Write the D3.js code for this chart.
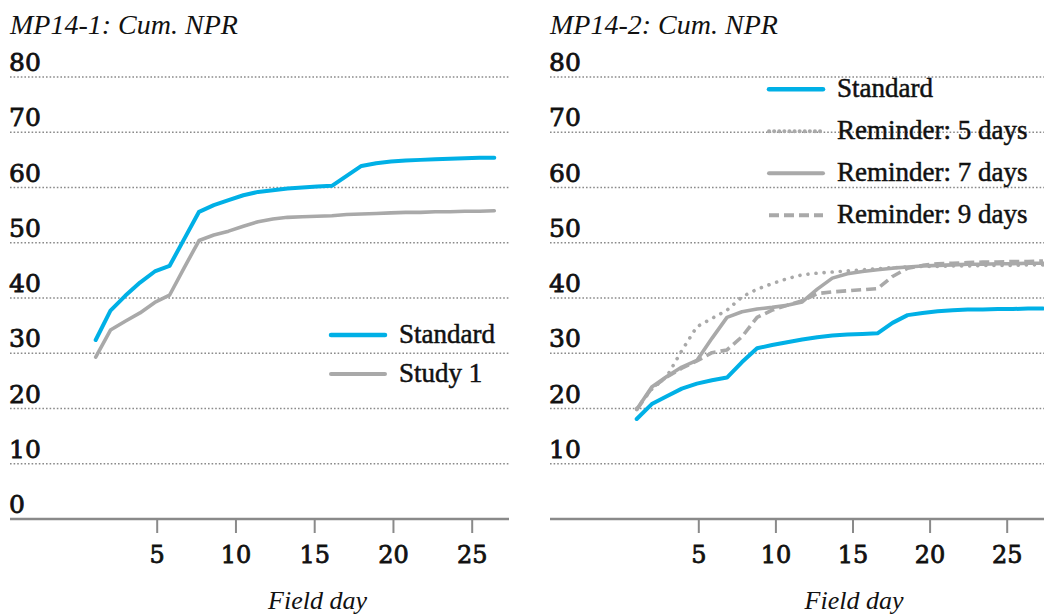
<!DOCTYPE html>
<html>
<head>
<meta charset="utf-8">
<script src="https://cdn.jsdelivr.net/npm/d3@7/dist/d3.min.js"></script>
<style>
  body { margin: 0; background: #fff; }
  svg text { fill: #111; }
  svg text.heavy { stroke: #111; stroke-width: 0.8px; }
  svg text.medium { stroke: #111; stroke-width: 0.5px; }
</style>
</head>
<body>
<div id="chart"></div>
<script>
// observation number along each field period (28 readings per study)
const samples = [1, 2, 3, 4, 5, 6, 7, 8, 9, 10, 11, 12, 13, 14, 15, 16, 17, 18, 19, 20, 21, 22, 23, 24, 25, 26, 27, 28];
const dayTicks = [5, 10, 15, 20, 25];
const valueTicks = [0, 10, 20, 30, 40, 50, 60, 70, 80];

// MP14-1
const mp1Labels = ['Standard', 'Study 1'];
const mp1Standard = [32.4, 37.7, 40.4, 42.8, 44.8, 45.8, 50.7, 55.6, 56.8, 57.7, 58.6, 59.2, 59.5, 59.8,
                     60.0, 60.2, 60.3, 62.1, 63.9, 64.4, 64.7, 64.9, 65.0, 65.1, 65.2, 65.3, 65.4, 65.4];
const mp1Study1 = [29.3, 34.2, 35.8, 37.3, 39.2, 40.5, 45.5, 50.4, 51.4, 52.1, 53.0, 53.8, 54.3, 54.6,
                   54.7, 54.8, 54.9, 55.1, 55.2, 55.3, 55.4, 55.5, 55.5, 55.6, 55.6, 55.7, 55.7, 55.8];

// MP14-2
const mp2Labels = ['Standard', 'Reminder: 5 days', 'Reminder: 7 days', 'Reminder: 9 days'];
const mp2Standard = [18.1, 20.8, 22.2, 23.6, 24.5, 25.1, 25.6, 28.4, 30.9, 31.5, 32.0, 32.5, 32.9, 33.2,
                     33.4, 33.5, 33.6, 35.5, 36.9, 37.3, 37.6, 37.8, 37.9, 37.9, 38.0, 38.0, 38.1, 38.1];
const mp2Reminder5 = [20.0, 23.5, 25.8, 30.5, 34.8, 36.3, 37.8, 40.2, 41.6, 42.6, 43.5, 44.2, 44.5, 44.7,
                      44.9, 45.1, 45.3, 45.5, 45.6, 45.7, 45.7, 45.8, 45.8, 45.9, 45.9, 45.9, 46.0, 46.0];
const mp2Reminder7 = [19.8, 23.9, 25.8, 27.5, 28.7, 32.7, 36.5, 37.5, 38.0, 38.3, 38.7, 39.3, 41.6, 43.6,
                      44.4, 44.8, 45.1, 45.4, 45.6, 45.8, 45.9, 46.0, 46.1, 46.1, 46.2, 46.2, 46.3, 46.3];
const mp2Reminder9 = [19.8, 23.7, 25.7, 27.3, 28.6, 30.1, 30.6, 33.0, 36.5, 37.8, 38.7, 39.5, 40.8, 41.1,
                      41.3, 41.5, 41.7, 43.9, 45.4, 45.9, 46.2, 46.3, 46.4, 46.5, 46.5, 46.6, 46.6, 46.7];

const BLUE = '#00b0e6';
const GRAY = '#a9a9a9';
const GRID = '#8a8a8a';
const STYLES = {
  solid:  { color: GRAY, dash: null, cap: 'round' },
  blue:   { color: BLUE, dash: null, cap: 'round' },
  dotted: { color: GRAY, dash: '0.1,8', cap: 'round' },
  dashed: { color: GRAY, dash: '10,5', cap: 'butt' }
};

class CumPanel {
  constructor(svg) {
    this.svg = svg;
    this.y = d3.scaleLinear().domain([0, 80]).range([519, 77]);
  }

  /* ---
   * Draws one panel from the chart object.
   */
  display(chart) {
    this.chart = chart;
    this.g = this.svg.append('g').attr('transform', `translate(${chart.left},0)`);
    this.x = d3.scaleLinear().domain(d3.extent(samples)).range(chart.sampleRange);
    this.xDay = d3.scaleLinear().domain([5, 25]).range(chart.dayRange);

    this.createGrid();
    this.createAxis();
    this.createLines();
    this.createLegend();
  }

  /* ---
   * Helper: dotted value grid with labels sitting on top of each line.
   */
  createGrid() {
    const ticks = valueTicks.filter(v => v > 0);
    this.g.selectAll('line.grid')
      .data(ticks)
      .enter()
      .append('line')
      .attr('class', 'grid')
      .attr('x1', 0).attr('x2', this.chart.width)
      .attr('y1', d => this.y(d)).attr('y2', d => this.y(d))
      .attr('stroke', GRID)
      .attr('stroke-width', 1.4)
      .attr('stroke-dasharray', '1.6,2');

    const labels = this.chart.zeroLabel ? valueTicks : ticks;
    this.g.selectAll('text.ylab')
      .data(labels)
      .enter()
      .append('text')
      .attr('class', 'ylab heavy')
      .attr('x', -1)
      .attr('y', d => this.y(d) - 6)
      .style('font-family', 'DejaVu Serif')
      .style('font-size', '25px')
      .text(d => d);

    this.svg.append('text')
      .attr('x', this.chart.left)
      .attr('y', 34)
      .style('font-family', 'Liberation Serif')
      .style('font-style', 'italic')
      .style('font-size', '28px')
      .text(this.chart.title);
  }

  /* ---
   * Helper: baseline with field day ticks.
   */
  createAxis() {
    const axis = d3.axisBottom(this.xDay)
      .tickValues(dayTicks)
      .tickSize(14)
      .tickPadding(13);

    const ax = this.g.append('g')
      .attr('transform', `translate(0,${this.y(0)})`)
      .call(axis);

    ax.select('.domain').remove();
    ax.selectAll('.tick line').attr('stroke', GRID).attr('stroke-width', 2);
    ax.selectAll('.tick text')
      .attr('class', 'heavy')
      .attr('fill', '#111')
      .style('font-family', 'DejaVu Serif')
      .style('font-size', '24px');

    ax.append('line')
      .attr('x1', 0).attr('x2', this.chart.width)
      .attr('stroke', GRID)
      .attr('stroke-width', 2.5);

    this.g.append('text')
      .attr('x', this.chart.labelX)
      .attr('y', 609)
      .attr('text-anchor', 'middle')
      .style('font-family', 'Liberation Serif')
      .style('font-style', 'italic')
      .style('font-size', '26px')
      .text('Field day');
  }

  /* ---
   * Helper: the cumulative lines, drawn back to front.
   */
  createLines() {
    const line = d3.line()
      .x((d, i) => this.x(samples[i]))
      .y(d => this.y(d));

    this.chart.series.slice().reverse().forEach(s => {
      const st = STYLES[s.style];
      this.g.append('path')
        .datum(s.values)
        .attr('d', line)
        .attr('fill', 'none')
        .attr('stroke', st.color)
        .attr('stroke-width', s.style === 'blue' ? 4 : 3.6)
        .attr('stroke-linecap', st.cap)
        .attr('stroke-linejoin', 'round')
        .attr('stroke-dasharray', st.dash);
    });
  }

  /* ---
   * Helper: legend keys.
   */
  createLegend() {
    const lg = this.chart.legend;
    this.chart.series.forEach((s, i) => {
      const st = STYLES[s.style];
      const cy = lg.y + i * lg.step;
      this.g.append('line')
        .attr('x1', lg.x).attr('x2', lg.x + 54)
        .attr('y1', cy).attr('y2', cy)
        .attr('stroke', st.color)
        .attr('stroke-width', s.style === 'blue' ? 4.5 : 4)
        .attr('stroke-linecap', st.cap)
        .attr('stroke-dasharray', s.style === 'dotted' ? '0.1,5' : st.dash);

      this.g.append('text')
        .attr('class', 'medium')
        .attr('x', lg.x + 68)
        .attr('y', cy + 8)
        .style('font-family', 'Liberation Serif')
        .style('font-size', '27px')
        .text(s.label);
    });
  }
}

const svg = d3.select('#chart').append('svg')
  .attr('width', 1044)
  .attr('height', 615);

new CumPanel(svg).display({
  title: 'MP14-1: Cum. NPR',
  left: 10, width: 499,
  sampleRange: [85.7, 484.3], dayRange: [146.7, 461.7],
  labelX: 307.5, zeroLabel: true,
  legend: { x: 321, y: 335, step: 39 },
  series: [
    { label: mp1Labels[0], values: mp1Standard, style: 'blue' },
    { label: mp1Labels[1], values: mp1Study1, style: 'solid' }
  ]
});

new CumPanel(svg).display({
  title: 'MP14-2: Cum. NPR',
  left: 550, width: 499,
  sampleRange: [86.7, 493], dayRange: [148.3, 456.7],
  labelX: 304, zeroLabel: false,
  legend: { x: 219, y: 89.3, step: 42 },
  series: [
    { label: mp2Labels[0], values: mp2Standard, style: 'blue' },
    { label: mp2Labels[1], values: mp2Reminder5, style: 'dotted' },
    { label: mp2Labels[2], values: mp2Reminder7, style: 'solid' },
    { label: mp2Labels[3], values: mp2Reminder9, style: 'dashed' }
  ]
});
</script>
</body>
</html>
